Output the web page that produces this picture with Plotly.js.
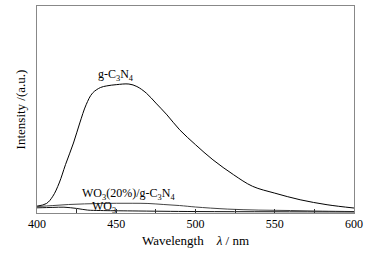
<!DOCTYPE html>
<html><head><meta charset="utf-8">
<script src="https://cdn.plot.ly/plotly-3.0.1.min.js"></script>
<style>html,body{margin:0;padding:0;background:#fff}#plot{width:370px;height:256px}</style>
</head><body><div id="plot"></div>
<script>
const gcnX = [400,406,410,414,418,423,427,431,435,440,444,450,458,463,469,475,482,490,500,511,524,536,550,566,583,600];
const gcnY = [3.3,4.6,8.1,14.5,23.4,33.8,43.5,52.3,57.9,60.6,61.4,62.0,62.3,61.1,57.9,53.1,47.4,40.2,33.0,25.7,18.5,12.9,9.6,6.4,4.0,2.4];
const compX = [400,410,420,430,440,450,460,470,480,490,500,520,540,560,580,600];
const compY = [3.1,3.6,4.1,4.4,4.6,4.7,4.7,4.6,4.1,3.6,2.9,1.9,1.4,1.2,0.9,0.7];
const wo3X = [400,410,417,425,432,440,460,500,550,600];
const wo3Y = [2.5,2.7,2.8,2.2,1.4,1.2,1.0,0.7,0.6,0.5];
const xTicks = [400,450,500,550,600];
const labels = ["g-C<sub>3</sub>N<sub>4</sub>","WO<sub>3</sub>(20%)/g-C<sub>3</sub>N<sub>4</sub>","WO<sub>3</sub>"];

const font = {family:"Liberation Serif, Times New Roman, serif", size:12, color:"#000"};
const traces = [
  {x:gcnX,y:gcnY,mode:"lines",line:{color:"#000",width:1,shape:"spline"},hoverinfo:"none"},
  {x:compX,y:compY,mode:"lines",line:{color:"#444",width:1,shape:"spline"},hoverinfo:"none"},
  {x:wo3X,y:wo3Y,mode:"lines",line:{color:"#111",width:1,shape:"spline"},hoverinfo:"none"}
];
const layout = {
  width:370,height:256,
  margin:{l:37,r:16,t:6,b:43},
  paper_bgcolor:"#fff",plot_bgcolor:"#fff",
  showlegend:false,
  font:font,
  xaxis:{range:[400,600],tickvals:xTicks,ticktext:xTicks.map(String),ticks:"inside",ticklen:4,tickcolor:"#333",
    minor:{dtick:25,ticks:"inside",ticklen:4,tickcolor:"#333"},
    showline:true,linecolor:"#888",linewidth:1,mirror:true,showgrid:false,zeroline:false,
    tickfont:{family:font.family,size:12,color:"#000"},
    title:{text:"Wavelength    <i>λ</i> / nm",font:{family:font.family,size:13,color:"#000"},standoff:5}},
  yaxis:{range:[0,100],showticklabels:false,ticks:"",showline:true,linecolor:"#888",linewidth:1,mirror:true,showgrid:false,zeroline:false,
    title:{text:"Intensity /(a.u.)",font:{family:font.family,size:13,color:"#000"},standoff:7}},
  annotations:[
    {x:450,y:66.7,xref:"x",yref:"y",text:labels[0],showarrow:false,font:font,xanchor:"center",yanchor:"middle"},
    {x:458,y:9.4,xref:"x",yref:"y",text:labels[1],showarrow:false,font:font,xanchor:"center",yanchor:"middle"},
    {x:442,y:3.0,xref:"x",yref:"y",text:labels[2],showarrow:false,font:font,xanchor:"center",yanchor:"middle"}
  ]
};
Plotly.newPlot("plot",traces,layout,{staticPlot:true,displayModeBar:false});
</script></body></html>
